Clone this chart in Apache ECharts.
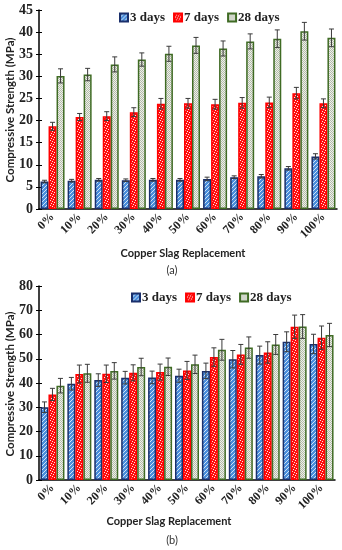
<!DOCTYPE html>
<html><head><meta charset="utf-8">
<script src="https://cdn.jsdelivr.net/npm/echarts@6/dist/echarts.min.js"></script>
<style>html,body{margin:0;padding:0;background:#fff}#c{width:342px;height:550px}</style>
</head><body><div id="c"></div>
<script>
const categories = ['0%','10%','20%','30%','40%','50%','60%','70%','80%','90%','100%'];
const seriesNames = ['3 days','7 days','28 days'];
// Chart (a)
const a3 = [6.2,6.4,6.6,6.5,6.6,6.6,6.8,7.2,7.4,9.2,11.9];
const a7 = [18.7,20.8,21.0,21.9,23.8,23.9,23.7,24.0,24.1,26.2,23.9];
const a28 = [30.1,30.4,32.7,33.8,35.1,37.0,36.3,37.9,38.5,40.2,38.7];
const a3err = [0.3,0.3,0.3,0.3,0.3,0.3,0.4,0.3,0.4,0.4,0.6];
const a7err = [0.9,0.8,1.0,1.0,1.2,1.1,1.1,1.2,1.2,1.3,1.0];
const a28err = [1.6,1.4,1.7,1.5,1.7,1.8,1.7,1.7,2.0,2.0,2.0];
// Chart (b)
const b3 = [30.0,39.7,41.2,42.2,42.3,43.0,45.0,49.8,51.5,57.0,56.1];
const b7 = [35.3,43.7,43.8,44.2,44.5,45.2,50.7,51.8,52.6,63.2,58.7];
const b28 = [38.9,44.0,45.0,46.6,46.7,47.7,53.7,54.6,55.9,63.3,59.8];
const b3err = [2.2,2.6,2.6,2.6,2.6,2.7,3.2,3.6,3.7,4.1,4.0];
const b7err = [2.5,3.7,3.6,3.3,3.3,3.7,3.8,4.1,4.4,4.8,4.8];
const b28err = [3.0,3.7,3.4,3.6,3.6,3.8,4.3,4.4,4.1,4.9,4.8];
const yTicksA = {min:0,max:45,interval:5};
const yTicksB = {min:0,max:80,interval:10};

function mk(w,h,draw){const c=document.createElement('canvas');c.width=w;c.height=h;const g=c.getContext('2d');draw(g);return c;}
const patBlue = mk(4,4,g=>{g.fillStyle='#4a8ddb';g.fillRect(0,0,4,4);g.fillStyle='#cfe3f7';
  [[0,3],[1,2],[2,1],[3,0]].forEach(p=>g.fillRect(p[0],p[1],1,1));});
const patRed = mk(5,5,g=>{g.fillStyle='#ff1010';g.fillRect(0,0,5,5);g.fillStyle='#ffe8e8';
  [[0,0],[2,1],[4,2],[1,3],[3,4]].forEach(p=>g.fillRect(p[0],p[1],1,1));});
const patGreen = mk(2,2,g=>{g.fillStyle='#eef0ea';g.fillRect(0,0,2,2);g.fillStyle='#b4bcaa';g.fillRect(0,0,1,1);g.fillRect(1,1,1,1);});
const styles = [
  {color:{image:patBlue,repeat:'repeat'},borderColor:'#1a2f6b',borderWidth:1.5},
  {color:{image:patRed,repeat:'repeat'},borderColor:'#ff0000',borderWidth:1.5},
  {color:{image:patGreen,repeat:'repeat'},borderColor:'#3f6b24',borderWidth:1.5}
];
const serif = 'Liberation Serif';
const sans = 'Lato';
const BW = 8;

function barSeries(idx, xi, yi, vals){
  return {type:'bar',name:seriesNames[idx],xAxisIndex:xi,yAxisIndex:yi,data:vals,barWidth:BW,barGap:'0%',
    itemStyle:styles[idx],z:2};
}
function errSeries(idx, xi, yi, vals, errs){
  const off = (idx-1)*BW;
  return {type:'custom',xAxisIndex:xi,yAxisIndex:yi,z:5,silent:true,
    data: vals.map((v,i)=>[i,v,errs[i]]),
    renderItem:function(params,api){
      const c = api.value(0), v=api.value(1), e=api.value(2);
      const x = api.coord([c,v])[0]+off;
      const yt = api.coord([c,v+e])[1], yb = api.coord([c,v-e])[1];
      const st = {stroke:'#3a3a3a',lineWidth:1};
      return {type:'group',children:[
        {type:'line',shape:{x1:x,y1:yt,x2:x,y2:yb},style:st},
        {type:'line',shape:{x1:x-2.5,y1:yt,x2:x+2.5,y2:yt},style:st},
        {type:'line',shape:{x1:x-2.5,y1:yb,x2:x+2.5,y2:yb},style:st}
      ]};
    }};
}
const xAx = (gi)=>({type:'category',gridIndex:gi,data:categories,
  axisLine:{lineStyle:{color:'#000',width:1.5}},axisTick:{show:false},
  axisLabel:{interval:0,rotate:45,margin:6,fontFamily:serif,fontWeight:'bold',fontSize:12,color:'#222'}});
const yAx = (gi,t)=>({type:'value',gridIndex:gi,min:t.min,max:t.max,interval:t.interval,
  splitLine:{show:false},axisLine:{show:true,lineStyle:{color:'#000',width:1.5}},
  axisTick:{show:true,length:3,lineStyle:{color:'#000'}},
  axisLabel:{margin:6,fontFamily:serif,fontWeight:'bold',fontSize:14,color:'#222'}});
const yAxIn = (gi,t)=>({type:'value',gridIndex:gi,min:t.min,max:t.max,interval:t.interval,position:'left',
  splitLine:{show:false},axisLine:{show:false},axisTick:{show:true,inside:true,length:3,lineStyle:{color:'#000'}},
  axisLabel:{show:false}});

const legendStyle = {itemWidth:8,itemHeight:8,itemGap:8,icon:'rect',
  textStyle:{fontFamily:serif,fontWeight:'bold',fontSize:13,color:'#222',padding:[0,0,0,-3]},data:seriesNames};

const option = {
  animation:false,
  grid:[{left:39,right:5,top:10,height:199},{left:39,right:7,top:286,height:194}],
  legend:[Object.assign({left:114,top:6},legendStyle),Object.assign({left:126,top:286},legendStyle)],
  xAxis:[xAx(0),xAx(1)],
  yAxis:[yAx(0,yTicksA),yAx(1,yTicksB),yAxIn(0,yTicksA),yAxIn(1,yTicksB)],
  series:[
    barSeries(0,0,0,a3),barSeries(1,0,0,a7),barSeries(2,0,0,a28),
    barSeries(0,1,1,b3),barSeries(1,1,1,b7),barSeries(2,1,1,b28),
    errSeries(0,0,0,a3,a3err),errSeries(1,0,0,a7,a7err),errSeries(2,0,0,a28,a28err),
    errSeries(0,1,1,b3,b3err),errSeries(1,1,1,b7,b7err),errSeries(2,1,1,b28,b28err)
  ],
  graphic:[
    {type:'text',x:10,y:110,rotation:Math.PI/2,style:{text:'Compressive Strength (MPa)',font:'bold 11.5px '+sans,fill:'#222',align:'center',verticalAlign:'middle'}},
    {type:'text',x:10,y:384,rotation:Math.PI/2,style:{text:'Compressive Strength (MPa)',font:'bold 11.5px '+sans,fill:'#222',align:'center',verticalAlign:'middle'}},
    {type:'text',x:183,y:253,style:{text:'Copper Slag Replacement',font:'bold 11px '+sans,fill:'#222',align:'center',verticalAlign:'middle'}},
    {type:'text',x:169,y:521,style:{text:'Copper Slag Replacement',font:'bold 11px '+sans,fill:'#222',align:'center',verticalAlign:'middle'}},
    {type:'text',x:172,y:270,style:{text:'(a)',font:'11px '+sans,fill:'#333',align:'center',verticalAlign:'middle'}},
    {type:'text',x:172,y:540,style:{text:'(b)',font:'11px '+sans,fill:'#333',align:'center',verticalAlign:'middle'}}
  ]
};
const chart = echarts.init(document.getElementById('c'),null,{renderer:'canvas'});
chart.setOption(option);
</script></body></html>
